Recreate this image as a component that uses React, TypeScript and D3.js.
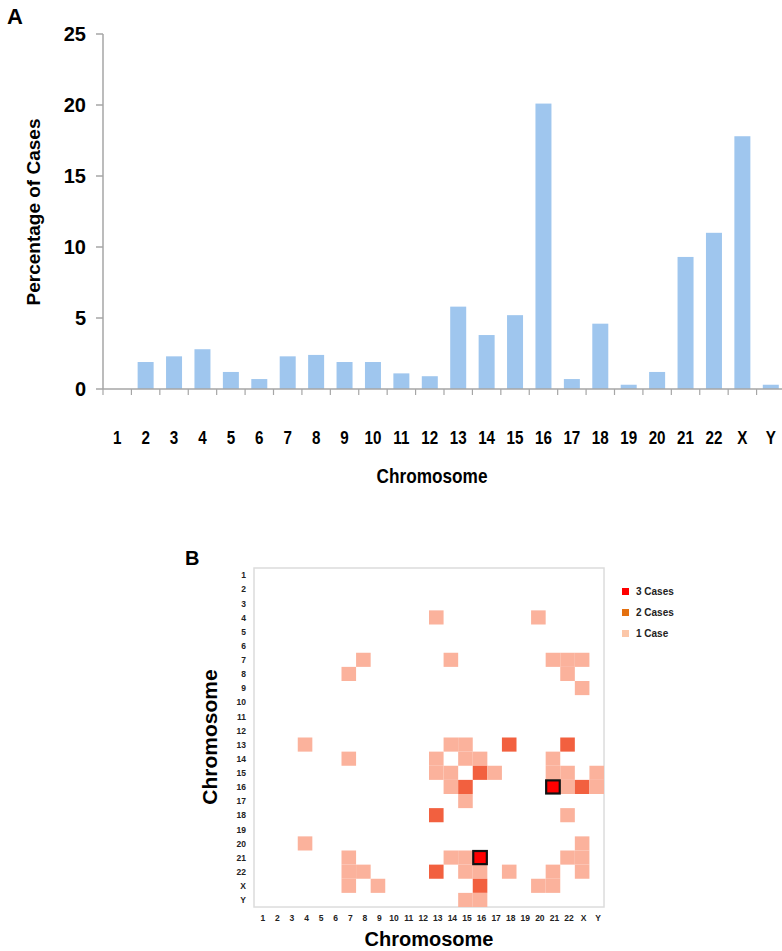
import React from "react";
import * as d3 from "d3";

const chromosomes = ["1","2","3","4","5","6","7","8","9","10","11","12","13","14","15","16","17","18","19","20","21","22","X","Y"];
const percentCases = [0,1.9,2.3,2.8,1.2,0.7,2.3,2.4,1.9,1.9,1.1,0.9,5.8,3.8,5.2,20.1,0.7,4.6,0.3,1.2,9.3,11.0,17.8,0.3];
const yTicks = [0,5,10,15,20,25];

// [row chromosome, column chromosome, number of cases]
const heatCells: [string, string, number][] = [
  ["4","13",1],["4","20",1],
  ["7","8",1],["7","14",1],["7","21",1],["7","22",1],["7","X",1],
  ["8","7",1],["8","22",1],
  ["9","X",1],
  ["13","4",1],["13","14",1],["13","15",1],["13","18",2],["13","22",2],
  ["14","7",1],["14","13",1],["14","15",1],["14","16",1],["14","21",1],
  ["15","13",1],["15","14",1],["15","16",2],["15","17",1],["15","21",1],["15","22",1],["15","Y",1],
  ["16","14",1],["16","15",2],["16","21",3],["16","22",1],["16","X",2],["16","Y",1],
  ["17","15",1],
  ["18","13",2],["18","22",1],
  ["20","4",1],["20","X",1],
  ["21","7",1],["21","14",1],["21","15",1],["21","16",3],["21","22",1],["21","X",1],
  ["22","7",1],["22","8",1],["22","13",2],["22","15",1],["22","16",1],["22","18",1],["22","21",1],["22","X",1],
  ["X","7",1],["X","9",1],["X","16",2],["X","20",1],["X","21",1],
  ["Y","15",1],["Y","16",1],
];
const legendLabels = ["3 Cases","2 Cases","1 Case"];
const legendColors = ["#ff0000","#e4700f","#fbc6a8"];
const cellColors: Record<number,string> = {1:"#fbb29c",2:"#f2603f",3:"#ff0000"};

const ARIAL = "'Liberation Sans', Arial, sans-serif";

export default function App() {
  const W = 782, H = 951;
  // Panel A
  const xb = d3.scaleBand<string>().domain(chromosomes).range([103, 785]);
  const y = d3.scaleLinear().domain([0, 25]).range([389, 34]);
  // Panel B
  const hx = d3.scaleBand<string>().domain(chromosomes).range([254, 604]);
  const hy = d3.scaleBand<string>().domain(chromosomes).range([568, 907]);

  return (
    <svg width={W} height={H} style={{ display: "block", position: "absolute", left: 0, top: 0 }}>
      <rect width={W} height={H} fill="#fff" />
      {/* Panel A */}
      <text x={7} y={24} fontFamily={ARIAL} fontWeight="bold" fontSize={22}>A</text>
      {chromosomes.map((c, i) => (
        <rect key={c} x={xb(c)! + (xb.bandwidth() - 16) / 2} y={y(percentCases[i])} width={16}
          height={y(0) - y(percentCases[i])} fill="#9fc6ee" />
      ))}
      <line x1={103} x2={103} y1={y(25)} y2={y(0)} stroke="#a6a6a6" strokeWidth={1.5} />
      <line x1={103} x2={785} y1={y(0)} y2={y(0)} stroke="#a6a6a6" strokeWidth={1.5} />
      {yTicks.map(t => (
        <g key={t}>
          <line x1={96} x2={103} y1={y(t)} y2={y(t)} stroke="#a6a6a6" strokeWidth={1.5} />
          <text x={86} y={y(t) + 7} textAnchor="end" fontFamily={ARIAL} fontWeight="bold" fontSize={20}>{t}</text>
        </g>
      ))}
      {chromosomes.map(c => (
        <line key={"t" + c} x1={xb(c)!} x2={xb(c)!} y1={y(0)} y2={y(0) + 6} stroke="#a6a6a6" strokeWidth={1.2} />
      ))}
      {chromosomes.map(c => (
        <text key={"l" + c} transform={`translate(${xb(c)! + xb.bandwidth() / 2},444) scale(0.8,1)`} textAnchor="middle"
          fontFamily={ARIAL} fontWeight="bold" fontSize={19}>{c}</text>
      ))}
      <text transform="translate(432,483) scale(0.82,1)" textAnchor="middle" fontFamily={ARIAL} fontWeight="bold" fontSize={21}>Chromosome</text>
      <text transform="translate(40,212) rotate(-90)" textAnchor="middle" fontFamily={ARIAL} fontWeight="bold" fontSize={19}>Percentage of Cases</text>

      {/* Panel B */}
      <text x={185} y={565} fontFamily={ARIAL} fontWeight="bold" fontSize={20}>B</text>
      <rect x={254} y={568} width={350} height={339} fill="#fff" stroke="#dcdcdc" strokeWidth={1.5} />
      {heatCells.filter(d => d[2] < 3).map(d => (
        <rect key={d[0] + "-" + d[1]} x={hx(d[1])!} y={hy(d[0])!} width={hx.bandwidth()} height={hy.bandwidth()}
          fill={cellColors[d[2]]} />
      ))}
      {heatCells.filter(d => d[2] === 3).map(d => (
        <rect key={d[0] + "-" + d[1]} x={hx(d[1])! + 0.5} y={hy(d[0])! + 0.5} width={hx.bandwidth() - 1} height={hy.bandwidth() - 1}
          fill={cellColors[3]} stroke="#111" strokeWidth={2.2} />
      ))}
      {chromosomes.map(c => (
        <text key={"r" + c} x={246} y={hy(c)! + hy.bandwidth() / 2 + 3.2} textAnchor="end" fontFamily={ARIAL}
          fontWeight="bold" fontSize={8.5} fill="#222">{c}</text>
      ))}
      {chromosomes.map(c => (
        <text key={"c" + c} x={hx(c)! + hx.bandwidth() / 2 + 1.5} y={921} textAnchor="middle" fontFamily={ARIAL}
          fontWeight="bold" fontSize={8.5} fill="#222">{c}</text>
      ))}
      <text x={429} y={946} textAnchor="middle" fontFamily={ARIAL} fontWeight="bold" fontSize={20}>Chromosome</text>
      <text transform="translate(217,737) rotate(-90)" textAnchor="middle" fontFamily={ARIAL} fontWeight="bold" fontSize={21}>Chromosome</text>
      {legendLabels.map((l, i) => (
        <g key={l}>
          <rect x={622} y={588 + i * 21} width={7} height={7} fill={legendColors[i]} />
          <text x={636} y={595 + i * 21} fontFamily={ARIAL} fontWeight="bold" fontSize={10} fill="#222">{l}</text>
        </g>
      ))}
    </svg>
  );
}
